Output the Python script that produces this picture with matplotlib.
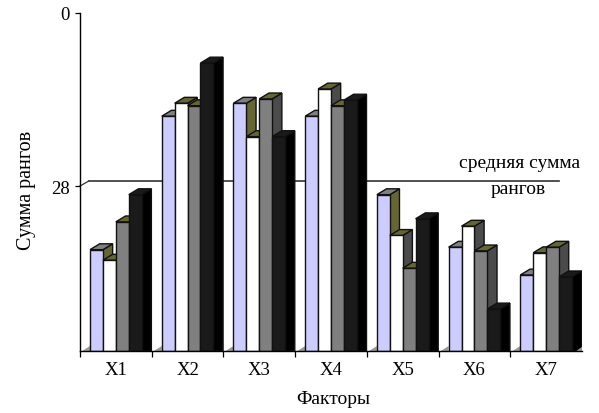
import matplotlib
matplotlib.use('Agg')
import matplotlib.pyplot as plt
from matplotlib.patches import Polygon

plt.rcParams['font.family'] = ['Liberation Serif', 'DejaVu Serif']

# суммы рангов по факторам, ось перевёрнута (0 сверху)
factors = ['X1', 'X2', 'X3', 'X4', 'X5', 'X6', 'X7']
series_a = [38.3, 16.7, 14.6, 16.7, 29.4, 37.9, 42.4]
series_b = [40.0, 14.6, 20.0, 12.3, 36.0, 34.5, 38.8]
series_c = [33.8, 15.0, 13.9, 15.0, 41.3, 38.5, 37.9]
series_d = [29.4, 8.1, 20.0, 14.1, 33.3, 47.9, 42.7]
mean_sum = 28
y_bottom = 54.7

# цвета граней: перед, верх, бок
faces = [('#ccccff', '#808080', '#666633'),
         ('#ffffff', '#666633', '#4b4b4b'),
         ('#808080', '#666633', '#4b4b4b'),
         ('#1a1a1a', '#1a1a1a', '#000000')]

bar_w = 0.18
start = 0.14
dx = 0.135   # глубина по x
dy = 0.95    # глубина по y

W, H = 599, 414
fig = plt.figure(figsize=(W / 100, H / 100), dpi=100)
ax = fig.add_axes([80 / W, 1 - 352 / H, 502 / W, 338 / H])
ax.set_xlim(0, len(factors))
ax.set_ylim(y_bottom, 0)

lw = 1.0
edge = '#111111'

# средняя линия за столбиками
ax.plot([dx * 0.9, 6.68], [mean_sum - dy * 0.85, mean_sum - dy * 0.85], color='#333333', lw=1.2, zorder=1)
ax.plot([0, dx * 0.9], [mean_sum, mean_sum - dy * 0.85], color='#333333', lw=0.9, zorder=1, clip_on=False)

for i in range(len(factors)):
    # пол
    ax.add_patch(Polygon([(i + 0.03, y_bottom), (i + start, y_bottom - dy * 0.85), (i + start, y_bottom)],
                         facecolor='#999999', edgecolor='none', zorder=2, clip_on=False))

order = 3
for i in range(len(factors)):
    for j, values in enumerate([series_a, series_b, series_c, series_d]):
        front, top, side = faces[j]
        x0 = i + start + j * bar_w
        x1 = x0 + bar_w
        v = values[i]
        # боковая и верхняя грани, потом передняя
        ax.add_patch(Polygon([(x1, v), (x1 + dx, v - dy), (x1 + dx, y_bottom), (x1, y_bottom)],
                             facecolor=side, edgecolor=edge, lw=lw, zorder=order))
        ax.add_patch(Polygon([(x0, v), (x0 + dx, v - dy), (x1 + dx, v - dy), (x1, v)],
                             facecolor=top, edgecolor=edge, lw=lw, zorder=order))
        ax.bar(x0, y_bottom - v, width=bar_w, bottom=v, align='edge',
               color=front, edgecolor=edge, lw=lw, zorder=order + 0.5)
        order += 1

# уголок пола справа
ax.add_patch(Polygon([(len(factors) - 0.08, y_bottom), (len(factors), y_bottom - dy * 0.7), (len(factors), y_bottom)],
                     facecolor='#999999', edgecolor='none', zorder=order))

for s in ['top', 'right']:
    ax.spines[s].set_visible(False)
for s in ['left', 'bottom']:
    ax.spines[s].set_linewidth(1.0)
    ax.spines[s].set_zorder(100)

ax.set_yticks([0, mean_sum])
ax.tick_params(axis='y', length=3.5, width=0.9, labelsize=13.5, pad=4)
ax.set_xticks(range(len(factors)))
ax.set_xticklabels([])
ax.tick_params(axis='x', length=4.5, width=0.9)
ax.set_xticks([i + 0.5 for i in range(len(factors))], minor=True)
ax.set_xticklabels(factors, minor=True, fontsize=13.5)
ax.tick_params(axis='x', which='minor', length=0, pad=7)

fig.text(27 / W, 1 - 190 / H, 'Сумма рангов', rotation=90, ha='center', va='center', fontsize=14.5)
fig.text(333 / W, 1 - 400 / H, 'Факторы', ha='center', va='center', fontsize=14)
fig.text(520 / W, 1 - 164 / H, 'средняя сумма', ha='center', va='center', fontsize=14)
fig.text(518 / W, 1 - 189 / H, 'рангов', ha='center', va='center', fontsize=14)

fig.savefig('out.png', dpi=100)
